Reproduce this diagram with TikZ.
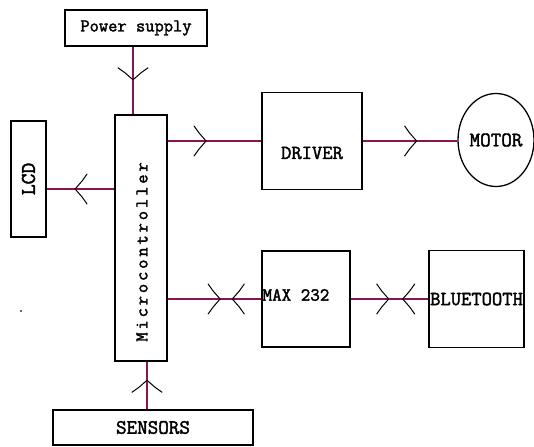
\documentclass[tikz,border=0pt]{standalone}
\usepackage{fontspec}
\usetikzlibrary{
    arrows.meta,
    shapes.geometric,
    decorations.markings
}
\newfontfamily\boxfont[FakeBold=2]{Latin Modern Mono}
\newfontfamily\wideboxfont[FakeBold=2,LetterSpace=16]{Latin Modern Mono}
\definecolor{wire}{RGB}{140,20,80}

\begin{document}
\begin{tikzpicture}[
        x=1pt, y=-1pt,
        block/.style={
            draw,
            line width=1.3pt,
            inner sep=0pt
        },
        tag/.style={
            font=\boxfont\fontsize{#1}{#1}\selectfont,
            inner sep=0pt
        },
        tag/.default=20,
        link/.style={
            draw=wire,
            line width=1.6pt
        },
        chev/.style={
            postaction={decorate, decoration={markings,
                mark=at position #1 with {\draw[black, line width=1pt, line cap=round, line join=round]
                    (-12pt,15pt) .. controls (-10pt,11pt) .. (-7pt,8pt) -- (0pt,0pt)
                    -- (-7pt,-8pt) .. controls (-10pt,-11pt) .. (-12pt,-15pt);}}}
        },
        rchev/.style={
            postaction={decorate, decoration={markings,
                mark=at position #1 with {\draw[black, line width=1pt, line cap=round, line join=round]
                    (12pt,15pt) .. controls (10pt,11pt) .. (7pt,8pt) -- (0pt,0pt)
                    -- (7pt,-8pt) .. controls (10pt,-11pt) .. (12pt,-15pt);}}}
        }
    ]
    \useasboundingbox (0,0) rectangle (534,446);

    \node[block, tag=18, minimum width=142pt, minimum height=36pt] (pwr) at (136,28) {Power supply};
    \node[block, minimum width=52pt, minimum height=246pt] (mc) at (141,238) {};
    \node[tag, rotate=90, font=\wideboxfont\fontsize{18}{18}\selectfont] (mctext) at (142,252) {Microcontroller};
    \node[block, tag=21, minimum width=35pt, minimum height=116pt] (lcd) at (28.5,179) {\rotatebox{90}{LCD}};

    \node[block, minimum width=100pt, minimum height=97pt] (drv) at (312,141) {};
    \node[tag] (drvtext) at (312,153) {DRIVER};
    \node[block, ellipse, tag=20.5, minimum width=76pt, minimum height=93pt] (mot) at (496,140) {MOTOR};

    \node[block, minimum width=88pt, minimum height=96pt] (max) at (306,299) {};
    \node[tag=18.5] (maxtext) at (296,295) {MAX 232};
    \node[block, tag=20, minimum width=95pt, minimum height=97pt] (bt) at (476.5,299) {BLUETOOTH};

    \node[block, tag=20.5, minimum width=200pt, minimum height=35pt] (sen) at (153,427.5) {SENSORS};

    \draw[link, chev=0.49] ([xshift=-3pt]pwr.south) -- ([xshift=-3pt]pwr.south |- mc.north);
    \draw[link, chev=0.58] ([yshift=-10pt]lcd.east -| mc.west) -- ([yshift=-10pt]lcd.east);
    \draw[link, chev=0.41] (mc.east |- drv.west) -- (drv.west);
    \draw[link, chev=0.57] (drv.east) -- (mot.west |- drv.east);
    \draw[link, chev=0.56, rchev=0.69] (mc.east |- max.west) -- (max.west);
    \draw[link, chev=0.49, rchev=0.67] (max.east) -- (bt.west |- max.east);
    \draw[link, chev=0.61] ([xshift=-6pt]sen.north) -- ([xshift=-6pt]sen.north |- mc.south);

    \fill[black!80] (21,311) circle (1.2pt);

\end{tikzpicture}
\end{document}
